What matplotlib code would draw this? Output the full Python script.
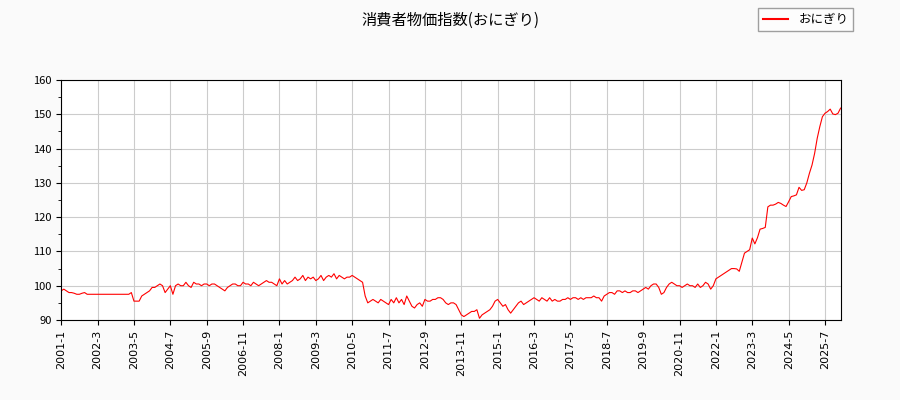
import matplotlib
matplotlib.use("Agg")
import matplotlib.pyplot as plt
import numpy as np
from matplotlib.lines import Line2D
plt.rcParams['font.family'] = ['Noto Sans CJK JP', 'DejaVu Sans']

title = "消費者物価指数(おにぎり)"
series_name = "おにぎり"
start_year, start_month = 2001, 1
values = [
 98.5,99,98.5,98,98,97.8,97.5,97.5,97.8,98,97.5,97.5,
 97.5,97.5,97.5,97.5,97.5,97.5,97.5,97.5,97.5,97.5,97.5,97.5,
 97.5,97.5,97.5,98,95.5,95.5,95.5,97,97.5,98,98.5,99.5,
 99.5,100,100.5,100,98,99,100,97.5,100,100.5,100,100,
 101,100,99.5,101,100.5,100.5,100,100.5,100.5,100,100.5,100.5,
 100,99.5,99,98.5,99.5,100,100.5,100.5,100,100,101,100.5,
 100.5,100,101,100.5,100,100.5,101,101.5,101,101,100.5,100,
 102,100.5,101.5,100.5,101,101.5,102.5,101.5,102,103,101.5,102.5,
 102,102.5,101.5,102,103,101.5,102.5,103,102.5,103.5,102,103,
 102.5,102,102.5,102.5,103,102.5,102,101.5,101,97,95,95.5,
 96,95.5,95,96,95.5,95,94.5,96,95,96.5,95,96,
 94.5,97,95.5,94,93.5,94.5,95,94,96,95.5,95.5,96,
 96,96.5,96.5,96,95,94.5,95,95,94.5,93,91.5,91,
 91.5,92,92.5,92.5,93,90.5,91.5,92,92.5,93,94,95.5,
 96,95,94,94.5,93,92,93,94,95,95.5,94.5,95,
 95.5,96,96.5,96,95.5,96.5,96,95.5,96.5,95.5,96,95.5,
 95.5,96,96,96.5,96,96.5,96.5,96,96.5,96,96.5,96.5,
 96.5,97,96.5,96.5,95.5,97,97.5,98,98,97.5,98.5,98.5,
 98,98.5,98,98,98.5,98.5,98,98.5,99,99.5,99,100,
 100.5,100.5,99.5,97.5,98,99.5,100.5,101,100.5,100,100,99.5,
 100,100.5,100,100,99.5,100.5,99.5,100,101,100.5,99,100,
 102,102.5,103,103.5,104,104.5,105,105,104.9,104.2,106.8,109.5,
 110,110.5,113.9,112.2,114,116.5,116.7,117,123,123.5,123.5,123.8,
 124.3,124,123.5,123.1,124.5,126,126.2,126.5,128.7,127.8,128,130,
 132.8,135.2,138.6,143,146.4,149.3,150.3,150.8,151.5,150.1,149.9,150.3,
 151.8,
]
x = np.arange(len(values))
tick_pos = np.arange(0, len(values), 14)
tick_labels = [f"{start_year + (start_month-1+i)//12}-{(start_month-1+i)%12+1}" for i in tick_pos]

fig = plt.figure(figsize=(9, 4), dpi=100, facecolor='#fafafa')
ax = fig.add_axes([0.068, 0.2, 0.866, 0.6])
ax.plot(x, values, color='red', lw=0.8)
ax.set_xlim(0, len(values)-1)
ax.set_ylim(90, 160)
ax.set_yticks(np.arange(90, 161, 10))
ax.set_yticks(np.arange(90, 161, 5), minor=True)
ax.set_xticks(tick_pos)
ax.set_xticklabels(tick_labels, rotation=90, fontsize=8, family=['DejaVu Sans'])
ax.tick_params(axis='y', labelsize=8)
ax.grid(True, color='#cccccc', lw=0.8)
fig.suptitle(title, y=0.97, fontsize=11)
handle = Line2D([], [], color='red', lw=1.5)
fig.legend([handle], [series_name], loc='upper right', bbox_to_anchor=(0.955, 0.995), fontsize=9,
           fancybox=False, edgecolor='#888888')
fig.savefig("out.png", dpi=100, facecolor=fig.get_facecolor())
